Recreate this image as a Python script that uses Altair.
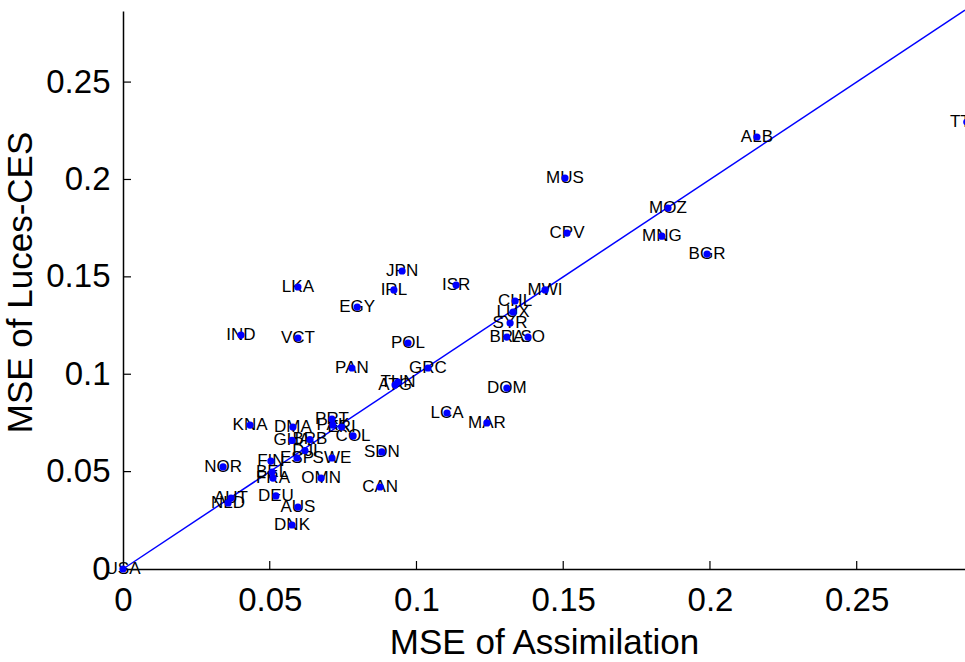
import altair as alt
import pandas as pd

# ---- data ----
countries = ["USA", "ALB", "TTO", "MUS", "MOZ", "CPV", "MNG", "BGR",
             "JPN", "IRL", "ISR", "EGY", "POL", "PAN", "GRC", "TUN", "ATG",
             "DOM", "CHL", "LUX", "SYR", "BRA", "LSO", "MWI", "MAR", "LCA",
             "KNA", "DMA", "PRT", "PAK", "ERI", "COL", "GHA", "BRB", "DJI",
             "FIN", "ESP", "SWE", "NOR", "BEL", "FRA", "OMN", "SDN", "CAN",
             "AUT", "NLD", "DEU", "AUS", "DNK", "IND", "VCT", "LKA"]
mse_assimilation = [0.0, 0.216, 0.2875, 0.1506, 0.1857, 0.1513, 0.1836, 0.199,
                    0.0951, 0.0923, 0.1135, 0.0798, 0.0971, 0.078, 0.1039, 0.0937, 0.0927,
                    0.1308, 0.1336, 0.1329, 0.1319, 0.1308, 0.138, 0.1438, 0.124, 0.1104,
                    0.0433, 0.0579, 0.0712, 0.0715, 0.0745, 0.0784, 0.0576, 0.0637, 0.062,
                    0.0504, 0.0593, 0.0712, 0.0341, 0.0508, 0.0511, 0.0675, 0.0882, 0.0876,
                    0.0368, 0.0358, 0.0521, 0.0596, 0.0576, 0.0402, 0.0596, 0.0596]
mse_luces_ces = [0.0, 0.2218, 0.2295, 0.2007, 0.1853, 0.1725, 0.1709, 0.1617,
                 0.153, 0.1433, 0.1458, 0.1345, 0.116, 0.1032, 0.1032, 0.096, 0.0945,
                 0.0929, 0.1376, 0.1319, 0.1263, 0.1191, 0.1191, 0.1433, 0.075, 0.0801,
                 0.0739, 0.0729, 0.077, 0.0739, 0.0729, 0.0683, 0.066, 0.0665, 0.0608,
                 0.0554, 0.057, 0.057, 0.0524, 0.0498, 0.0467, 0.0467, 0.0601, 0.0421,
                 0.0364, 0.0339, 0.0375, 0.0318, 0.0226, 0.1201, 0.1186, 0.1448]
tick_values = [0, 0.05, 0.1, 0.15, 0.2, 0.25]
inner_ticks = [0.05, 0.1, 0.15, 0.2, 0.25]
diagonal = [0, 0.2869]

df = pd.DataFrame({"code": countries, "x": mse_assimilation, "y": mse_luces_ces})
ticks_df = pd.DataFrame({"t": inner_ticks})
diag_df = pd.DataFrame({"x": diagonal, "y": diagonal})

FONT = "Liberation Sans"
W, H = 842, 558
xs = alt.Scale(domain=[0, 0.2869], nice=False, zero=False)
ys = alt.Scale(domain=[0, 0.2865], nice=False, zero=False)

xaxis = alt.Axis(values=tick_values, format="~g", ticks=False, tickSize=0, grid=False,
                 domainColor="black", domainWidth=1.5,
                 labelFont=FONT, labelFontSize=33, labelColor="black", labelPadding=15,
                 labelFlush=False,
                 title="MSE of Assimilation", titleFont=FONT, titleFontSize=35,
                 titleFontWeight="normal", titleColor="black",
                 titleBaseline="alphabetic", titleY=84)
yaxis = alt.Axis(values=tick_values, format="~g", ticks=False, tickSize=0, grid=False,
                 domainColor="black", domainWidth=1.5,
                 labelFont=FONT, labelFontSize=33, labelColor="black", labelPadding=13,
                 labelFlush=False,
                 title="MSE of Luces-CES", titleFont=FONT, titleFontSize=35,
                 titleFontWeight="normal", titleColor="black",
                 titleAngle=270, titleBaseline="alphabetic", titleX=-92, titleY=271)

base_x = alt.X("x:Q", scale=xs, axis=xaxis)
base_y = alt.Y("y:Q", scale=ys, axis=yaxis)

line = alt.Chart(diag_df).mark_line(color="#0000FF", strokeWidth=1.5).encode(
    x=base_x, y=base_y)

labels = alt.Chart(df).mark_text(font=FONT, fontSize=17, color="black",
                                 align="center", baseline="middle").encode(
    x=alt.X("x:Q", scale=xs), y=alt.Y("y:Q", scale=ys), text="code:N")

points = alt.Chart(df).mark_circle(color="#0000FF", size=52, opacity=1).encode(
    x=alt.X("x:Q", scale=xs), y=alt.Y("y:Q", scale=ys))

xticks = alt.Chart(ticks_df).mark_rule(color="black", strokeWidth=1.2).encode(
    x=alt.X("t:Q", scale=xs), y=alt.value(H), y2=alt.value(H - 8))
yticks = alt.Chart(ticks_df).mark_rule(color="black", strokeWidth=1.2).encode(
    y=alt.Y("t:Q", scale=ys), x=alt.value(0), x2=alt.value(8))

chart = alt.layer(line, labels, points, xticks, yticks).properties(
    width=W, height=H,
    autosize=alt.AutoSizeParams(type="none"),
    padding={"left": 123, "top": 11, "right": 0, "bottom": 93},
).configure_view(stroke=None)

chart.save("out.html", embed_options={"renderer": "svg", "actions": False})
